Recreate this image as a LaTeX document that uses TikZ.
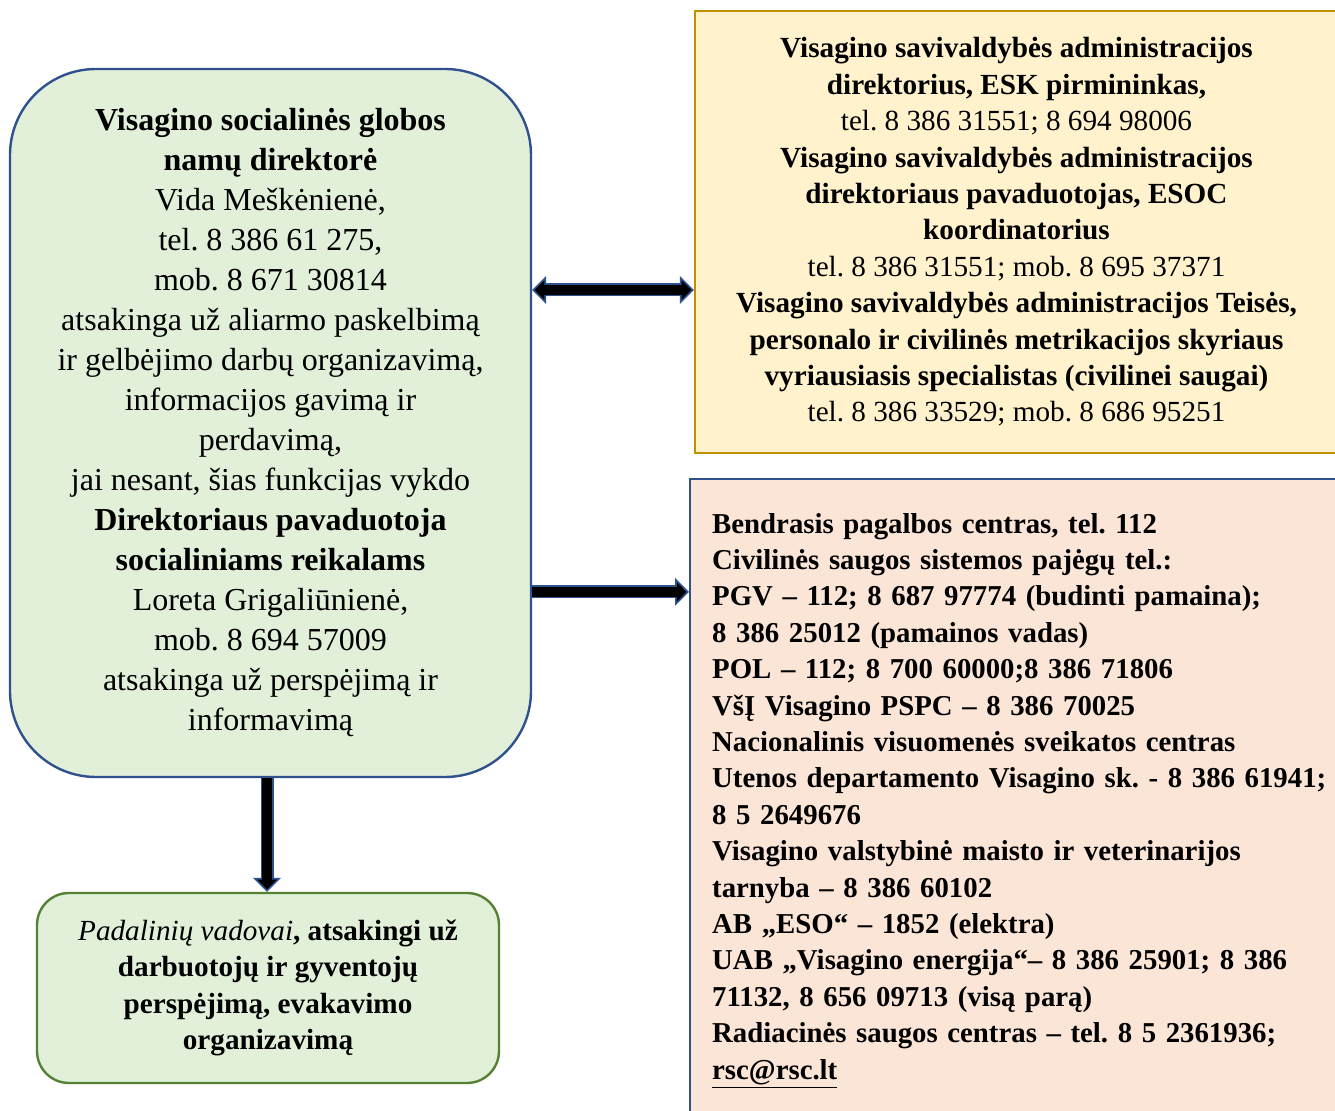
\documentclass[tikz,border=0pt]{standalone}
\usepackage{fontspec}
\setmainfont{Liberation Serif}
\usetikzlibrary{arrows.meta}
\frenchspacing

\definecolor{boxgreen}{HTML}{E2F0D9}
\definecolor{boxblue}{HTML}{2F528F}
\definecolor{leafgreen}{HTML}{548235}
\definecolor{boxyellow}{HTML}{FFF2CC}
\definecolor{boxgold}{HTML}{BF9000}
\definecolor{boxpink}{HTML}{FBE5D6}

\tikzset{
  headbox/.style={draw=boxblue, line width=1.2pt, fill=boxgreen, rounded corners=43pt,
    minimum width=260.5pt, minimum height=354pt, align=center,
    font=\fontsize{16}{20}\selectfont},
  leafbox/.style={draw=leafgreen, line width=1.2pt, fill=boxgreen, rounded corners=16pt,
    minimum width=231pt, minimum height=95pt, align=center,
    font=\fontsize{14.6}{18.2}\selectfont},
  infobox/.style={draw=boxgold, line width=1.2pt, fill=boxyellow,
    minimum width=321.5pt, minimum height=221pt, align=center,
    font=\fontsize{14.6}{18.2}\selectfont},
  listbox/.style={draw=boxblue, line width=1.2pt, fill=boxpink, anchor=north west,
    text width=320pt, inner xsep=11pt, inner ysep=17pt, align=left,
    font=\fontsize{14.4}{18.2}\selectfont\bfseries},
  blockarrow/.style={draw=black, line width=4.7pt, shorten >=1.27pt,
    -{Triangle[length=4.8pt,width=9.7pt,line width=0pt]},
    preaction={draw=boxblue, line width=6.5pt, shorten >=0pt,
      -{Triangle[length=7pt,width=14pt,line width=0pt]}}},
  twoarrow/.style={draw=black, line width=4.7pt, shorten >=1.27pt, shorten <=1.27pt,
    {Triangle[length=4.8pt,width=9.7pt,line width=0pt]}-{Triangle[length=4.8pt,width=9.7pt,line width=0pt]},
    preaction={draw=boxblue, line width=6.5pt, shorten >=0pt, shorten <=0pt,
      {Triangle[length=7pt,width=14pt,line width=0pt]}-{Triangle[length=7pt,width=14pt,line width=0pt]}}},
}

\begin{document}
\begin{tikzpicture}[x=0.5pt, y=-0.5pt]
  \useasboundingbox (0,0) rectangle (1335,1111);
  \clip (0,0) rectangle (1335,1111);

  % director of the care home
  \node[headbox] (dir) at (270.5,423) {%
    \textbf{Visagino socialinės globos}\\
    \textbf{namų direktorė}\\
    Vida Meškėnienė,\\
    tel. 8 386 61 275,\\
    mob. 8 671 30814\\
    atsakinga už aliarmo paskelbimą\\
    ir gelbėjimo darbų organizavimą,\\
    informacijos gavimą ir\\
    perdavimą,\\
    jai nesant, šias funkcijas vykdo\\
    \textbf{Direktoriaus pavaduotoja}\\
    \textbf{socialiniams reikalams}\\
    Loreta Grigaliūnienė,\\
    mob. 8 694 57009\\
    atsakinga už perspėjimą ir\\
    informavimą};

  % municipality
  \node[infobox] (muni) at (1016.5,232) {%
    \textbf{Visagino savivaldybės administracijos}\\
    \textbf{direktorius, ESK pirmininkas,}\\
    tel. 8 386 31551; 8 694 98006\\
    \textbf{Visagino savivaldybės administracijos}\\
    \textbf{direktoriaus pavaduotojas, ESOC}\\
    \textbf{koordinatorius}\\
    tel. 8 386 31551; mob. 8 695 37371\\
    \textbf{Visagino savivaldybės administracijos Teisės,}\\
    \textbf{personalo ir civilinės metrikacijos skyriaus}\\
    \textbf{vyriausiasis specialistas (civilinei saugai)}\\
    tel. 8 386 33529; mob. 8 686 95251};

  % emergency services
  \node[listbox] (serv) at (689,478) {%
    Bendrasis pagalbos centras, tel. 112\\
    Civilinės saugos sistemos pajėgų tel.:\\
    PGV – 112; 8 687 97774 (budinti pamaina);\\
    8 386 25012 (pamainos vadas)\\
    POL – 112; 8 700 60000;8 386 71806\\
    VšĮ Visagino PSPC – 8 386 70025\\
    Nacionalinis visuomenės sveikatos centras\\
    Utenos departamento Visagino sk. - 8 386 61941;\\
    8 5 2649676\\
    Visagino valstybinė maisto ir veterinarijos\\
    tarnyba – 8 386 60102\\
    AB „ESO“ – 1852 (elektra)\\
    UAB „Visagino energija“– 8 386 25901; 8 386\\
    71132, 8 656 09713 (visą parą)\\
    Radiacinės saugos centras – tel. 8 5 2361936;\\
    \underline{rsc@rsc.lt}};

  % unit heads
  \node[leafbox] (units) at (268,988) {%
    \textit{Padalinių vadovai}\textbf{, atsakingi už}\\
    \textbf{darbuotojų ir gyventojų}\\
    \textbf{perspėjimą, evakavimo}\\
    \textbf{organizavimą}};

  \draw[twoarrow] (dir.east |- 0,290) -- (muni.west |- 0,290);
  \draw[blockarrow] (dir.east |- 0,592) -- (serv.west |- 0,592);
  \draw[blockarrow] (dir.south -| 267,0) -- (units.north -| 267,0);
\end{tikzpicture}
\end{document}
